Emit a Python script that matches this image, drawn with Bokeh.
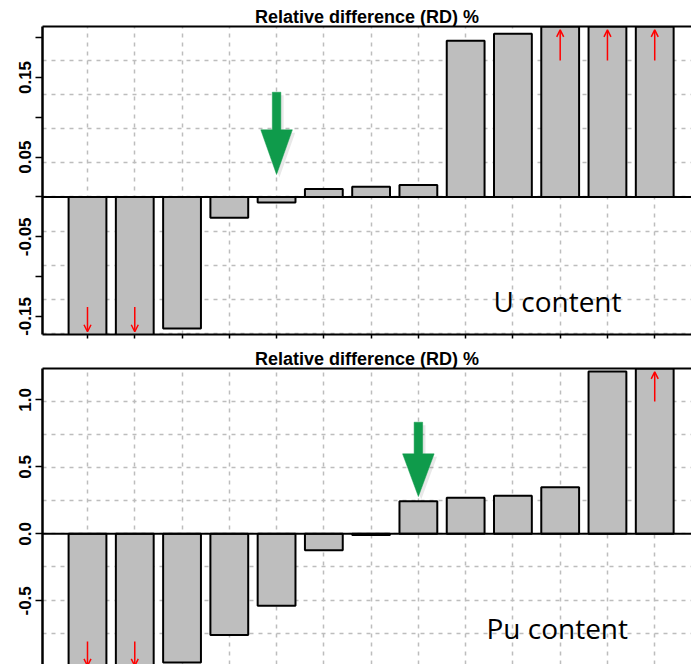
import numpy as np
from bokeh.plotting import figure
from bokeh.layouts import column
from bokeh.models import (FixedTicker, LinearAxis, Span, Label, Arrow, OpenHead,
                          ColumnDataSource, Range1d, NumeralTickFormatter)
from bokeh.embed import file_html
from bokeh.resources import INLINE

# ---------------- data ----------------
sample_index = list(range(1, 14))
u_rd = [-0.25, -0.25, -0.165, -0.026, -0.007, 0.010, 0.013, 0.015, 0.196, 0.205, 0.30, 0.30, 0.30]
pu_rd = [-1.30, -1.30, -0.96, -0.754, -0.537, -0.122, -0.008, 0.243, 0.269, 0.284, 0.348, 1.211, 1.50]

u_ylim = (-0.1726, 0.214)          # axis limits of the U panel
pu_ylim = (-1.005, 1.234)          # axis limits of the Pu panel
pu_visible_bottom = -0.975         # lower edge of the visible (cropped) Pu panel

u_major_ticks = [-0.15, -0.05, 0.05, 0.15]
u_minor_ticks = [-0.10, 0.0, 0.10, 0.20]
pu_major_ticks = [-0.5, 0.0, 0.5, 1.0]

panel_title = "Relative difference (RD) %"
u_label = "U content"
pu_label = "Pu content"

# highlighted sample (green arrow): bar index, tail, head base, tip (data units)
u_marker = (5, 0.1315, 0.0843, 0.0282)
pu_marker = (8, 0.833, 0.597, 0.278)

u_grid_step = 0.0429
pu_grid_step = 0.2473

FONT = "Liberation Sans"
X_RANGE = (0.048, 13.778)
FIG_W = 691
LEFT = 42


def make_panel(values, ylim, ybottom, height, top_border, bottom_border, show_bottom_axis,
               major, minor, fmt, grid_step, marker, label_text, label_xy):
    p = figure(width=FIG_W, height=height, x_range=Range1d(*X_RANGE),
               y_range=Range1d(ybottom, ylim[1]),
               output_backend="svg", toolbar_location=None,
               min_border_left=LEFT, min_border_right=0,
               min_border_top=top_border, min_border_bottom=bottom_border,
               x_axis_location="below" if show_bottom_axis else "above",
               title=panel_title, title_location="above")
    p.outline_line_color = None
    p.background_fill_color = "white"
    p.border_fill_color = "white"

    p.title.align = "center"
    p.title.offset = 3
    p.title.standoff = 0
    p.title.text_font = FONT
    p.title.text_font_style = "bold"
    p.title.text_font_size = "18px"
    p.title.text_color = "black"

    # y axis
    yax = p.yaxis[0]
    yax.ticker = FixedTicker(ticks=major, minor_ticks=minor)
    yax.formatter = NumeralTickFormatter(format=fmt)
    yax.major_label_orientation = "vertical"
    yax.major_label_text_font = FONT
    yax.major_label_text_font_style = "bold"
    yax.major_label_text_font_size = "17px"
    yax.major_label_text_color = "black"
    yax.major_label_standoff = 4
    yax.major_tick_out = 7
    yax.major_tick_in = 0
    yax.minor_tick_out = 7
    yax.minor_tick_in = 0
    yax.major_tick_line_width = 1.5
    yax.minor_tick_line_width = 1.5
    yax.major_tick_line_color = "black"
    yax.minor_tick_line_color = "black"
    yax.axis_line_width = 2.5
    yax.axis_line_color = "black"

    # x axis (unlabelled ticks below U panel, top frame line for Pu panel)
    xax = p.xaxis[0]
    xax.ticker = FixedTicker(ticks=[], minor_ticks=sample_index if show_bottom_axis else [])
    xax.major_label_text_font_size = "11px"
    xax.major_label_standoff = 0
    xax.major_tick_out = 0
    xax.major_tick_in = 0
    xax.minor_tick_out = 4 if show_bottom_axis else 0
    xax.minor_tick_in = 0
    xax.minor_tick_line_width = 1.5
    xax.minor_tick_line_color = "black"
    xax.axis_line_width = 2
    xax.axis_line_color = "black"

    if show_bottom_axis:
        top_ax = LinearAxis(ticker=FixedTicker(ticks=[], minor_ticks=[]),
                            major_tick_out=0, major_tick_in=0,
                            minor_tick_out=0, minor_tick_in=0, major_label_standoff=0,
                            axis_line_width=2, axis_line_color="black")
        p.add_layout(top_ax, "above")

    # grid
    kmax = int(np.floor(ylim[1] / grid_step))
    kmin = int(np.ceil(ylim[0] / grid_step))
    grid_y = [k * grid_step for k in range(kmin, kmax + 1)]
    p.xgrid.ticker = FixedTicker(ticks=sample_index)
    p.ygrid.ticker = FixedTicker(ticks=grid_y)
    for g in (p.xgrid, p.ygrid):
        g.grid_line_color = "#bdbdbd"
        g.grid_line_dash = "4 5"
        g.grid_line_width = 1.5

    # bars
    src = ColumnDataSource(dict(x=sample_index, top=values))
    p.vbar(x="x", top="top", bottom=0, width=0.8, source=src,
           fill_color="#bebebe", line_color="black", line_width=2)

    # zero line
    p.add_layout(Span(location=0, dimension="width", line_color="black", line_width=2))

    # red arrows for off-scale bars
    xs, ys0, ys1 = [], [], []
    for xi, v in zip(sample_index, values):
        if v > ylim[1]:
            xs.append(xi); ys0.append(0.8 * ylim[1]); ys1.append(0.98 * ylim[1])
        elif v < ylim[0]:
            xs.append(xi); ys0.append(0.8 * ylim[0]); ys1.append(0.98 * ylim[0])
    asrc = ColumnDataSource(dict(x0=xs, y0=ys0, x1=xs, y1=ys1))
    p.add_layout(Arrow(end=OpenHead(size=7, line_color="red", line_width=1.5),
                       x_start="x0", y_start="y0", x_end="x1", y_end="y1",
                       source=asrc, line_color="red", line_width=1.5))

    # green marker arrow
    mx, tail, base, tip = marker
    hw, sw = 0.334, 0.09
    px = [mx - sw, mx + sw, mx + sw, mx + hw, mx, mx - hw, mx - sw]
    py = [tail, tail, base, base, tip, base, base]
    yscale = (ylim[1] - ybottom) / (height - top_border - bottom_border)
    p.patch([v + 0.06 for v in px], [v - 3 * yscale for v in py],
            fill_color="#808080", fill_alpha=0.18, line_color=None)
    p.patch(px, py, fill_color="#0f9b4b", line_color="#0f9b4b", line_width=0.5)

    # panel label
    p.add_layout(Label(x=label_xy[0], y=label_xy[1], text=label_text, text_align="left",
                       text_baseline="alphabetic", text_font="Open Sans",
                       text_font_size="28px", text_color="black"))
    return p


p1 = make_panel(u_rd, u_ylim, u_ylim[0], 340, 26, 6, True,
                u_major_ticks, u_minor_ticks, "0.00", u_grid_step, u_marker,
                u_label, (9.59, -0.130))
p2 = make_panel(pu_rd, pu_ylim, pu_visible_bottom, 324, 28, 0, False,
                pu_major_ticks, [], "0.0", pu_grid_step, pu_marker,
                pu_label, (9.44, -0.700))

layout = column(p1, p2, spacing=0)
open("out.html", "w").write(file_html(layout, INLINE))
